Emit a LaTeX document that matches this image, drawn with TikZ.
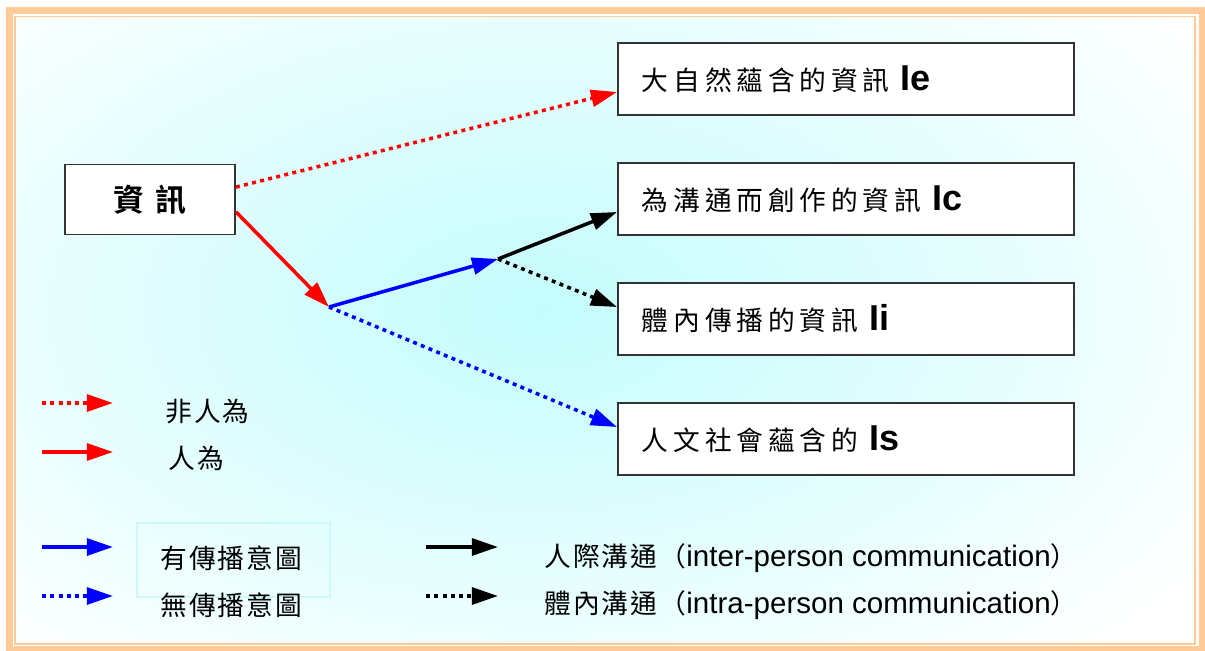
\documentclass[tikz,border=0pt]{standalone}
\usepackage{fontspec}
\setmainfont{Liberation Sans}
\newfontfamily\cjkbox[LetterSpace=18]{Noto Sans CJK TC}
\newfontfamily\cjkleg[LetterSpace=8]{Noto Sans CJK TC}
\newfontfamily\cjkhead[LetterSpace=35]{Noto Sans CJK TC Bold}
\usetikzlibrary{positioning, arrows.meta}

\definecolor{peach}{RGB}{255,204,153}
\definecolor{bgcyan}{RGB}{196,252,252}
\definecolor{legcyan}{RGB}{204,250,250}

\newcommand{\boxlabel}[2]{{\fontsize{19}{23}\cjkbox #1}\hspace{0.28cm}{\fontsize{25.6}{28}\rmfamily\bfseries #2}}
\newcommand{\latin}[1]{{\fontsize{21}{25}\rmfamily #1}}

\begin{document}
\begin{tikzpicture}[
        x=0.025cm, y=-0.025cm,
        every node/.style={inner sep=0pt},
        box/.style={draw=black!80, line width=1.4pt, fill=white, rectangle, minimum height=1.8cm, text width=10.2cm, inner xsep=0.6cm, align=left},
        headbox/.style={draw=black!80, line width=1.4pt, fill=white, rectangle, minimum width=4.25cm, minimum height=1.75cm, font=\fontsize{22}{26}\cjkhead},
        legtext/.style={anchor=west, font=\fontsize{19}{23}\cjkleg},
        arr/.style={-{Triangle[length=0.65cm, width=0.42cm]}, line width=2.5pt},
        dots/.style={dash pattern=on 2.8pt off 3.1pt}
    ]

    \useasboundingbox (0,0) rectangle (1205,651);

    % background and frame
    \begin{scope}
        \clip (16,17) rectangle (1195,644);
        \fill[white] (16,17) rectangle (1195,644);
        \shade[inner color=bgcyan, outer color=white] (540,310) ellipse (800 and 470);
    \end{scope}
    \draw[peach, line width=5pt] (9.5,10.5) rectangle (1202.5,650);
    \draw[peach, line width=1.4pt] (15,16.5) rectangle (1195,644);

    % boxes
    \node[headbox] (info) at (150,199.5) {資訊};
    \node[box] (ie) at (846,79) {\boxlabel{大自然蘊含的資訊}{Ie}};
    \node[box, below=1.15cm of ie] (ic) {\boxlabel{為溝通而創作的資訊}{Ic}};
    \node[box, below=1.15cm of ic] (ii) {\boxlabel{體內傳播的資訊}{Ii}};
    \node[box, below=1.15cm of ii] (is) {\boxlabel{人文社會蘊含的}{Is}};

    \coordinate (human) at (329,307);
    \coordinate (intent) at (498,259);

    \draw[arr, red, dots] ([yshift=0.31cm]info.east) -- ([yshift=-0.325cm]ie.west);
    \draw[arr, red] ([yshift=-0.31cm]info.east) -- (human);
    \draw[arr, blue] (human) -- (intent);
    \draw[arr, blue, dots] (human) -- ([yshift=0.3cm]is.west);
    \draw[arr, black] (intent) -- ([yshift=-0.325cm]ic.west);
    \draw[arr, black, dots] (intent) -- ([yshift=0.3cm]ii.west);

    % legend
    \draw[legcyan, line width=1.2pt] (137,523) rectangle (330,597);

    \node[legtext] (nonhuman) at (165,411) {非人為};
    \node[legtext] (byhuman) at (168,458) {人為};
    \node[legtext] (withint) at (160,558) {有傳播意圖};
    \node[legtext] (noint) at (160,605) {無傳播意圖};
    \node[legtext] (inter) at (544,558) {人際溝通（\latin{inter-person communication}）};
    \node[legtext] (intra) at (544,605) {體內溝通（\latin{intra-person communication}）};

    \coordinate (k1a) at (42,403);  \coordinate (k1b) at (113,403);
    \coordinate (k2a) at (42,452);  \coordinate (k2b) at (113,452);
    \coordinate (k3a) at (42,547);  \coordinate (k3b) at (113,547);
    \coordinate (k4a) at (42,596);  \coordinate (k4b) at (113,596);
    \coordinate (k5a) at (426,547); \coordinate (k5b) at (498,547);
    \coordinate (k6a) at (426,596); \coordinate (k6b) at (498,596);

    \draw[arr, red, dots] (k1a) -- (k1b);
    \draw[arr, red] (k2a) -- (k2b);
    \draw[arr, blue] (k3a) -- (k3b);
    \draw[arr, blue, dots] (k4a) -- (k4b);
    \draw[arr, black] (k5a) -- (k5b);
    \draw[arr, black, dots] (k6a) -- (k6b);

\end{tikzpicture}
\end{document}
